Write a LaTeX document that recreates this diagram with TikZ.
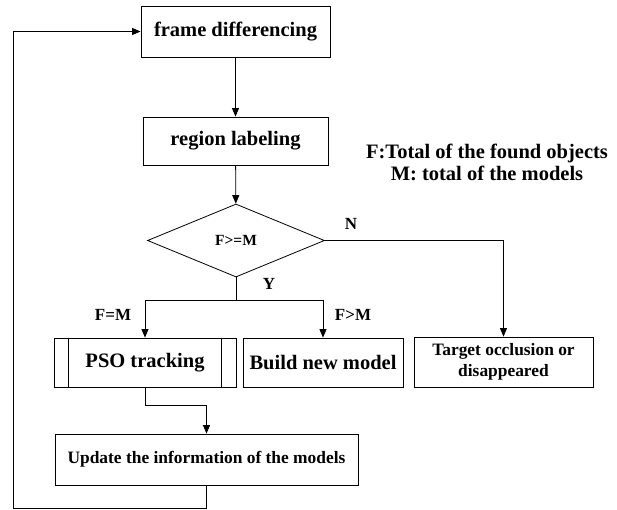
\documentclass[tikz,border=0pt]{standalone}
\usepackage{fontspec}
\setmainfont{Liberation Serif}
\usetikzlibrary{shapes.geometric,arrows.meta}

\begin{document}
\begin{tikzpicture}[x=1pt,y=-1pt,line width=0.8pt,
    process/.style ={rectangle, draw, inner sep=0pt, font=\fontsize{20.5}{24}\selectfont\bfseries},
    smallproc/.style ={rectangle, draw, inner sep=0pt, align=center, font=\fontsize{17.4}{21}\selectfont\bfseries},
    decision/.style ={diamond, draw, inner sep=0pt, aspect=2.4, minimum width=177pt, minimum height=73pt, font=\fontsize{15.5}{18}\selectfont\bfseries},
    tag/.style ={inner sep=0pt, font=\fontsize{17}{20}\selectfont\bfseries},
    flow/.style ={-{Triangle[length=8.5pt,width=7pt]}}]
   \useasboundingbox (0,0) rectangle (617,509);
   % boxes
   \node[process, minimum width=189pt, minimum height=51pt] (frame) at (235.5,31.5) {frame differencing};
   \node[process, minimum width=185pt, minimum height=48pt] (region) at (235.5,141) {region labeling};
   \node[decision] (check) at (236,240.5) {F>=M};
   \node[process, minimum width=182pt, minimum height=49pt] (pso) at (145,362.5) {PSO tracking};
   \node[process, minimum width=160pt, minimum height=49pt] (build) at (323,362.5) {Build new model};
   \node[smallproc, minimum width=179pt, minimum height=50pt] (target) at (503.5,362) {Target occlusion or\\disappeared};
   \node[smallproc, minimum width=303pt, minimum height=51pt] (update) at (206.5,459.5) {Update the information of the models};
   \node[align=center, inner sep=0pt, font=\fontsize{20.5}{22}\selectfont\bfseries] (legend) at (487,162) {F:Total of the found objects\\M: total of the models};
   % inner bars of the predefined process
   \draw ([xshift=15pt]pso.north west) -- ([xshift=15pt]pso.south west);
   \draw ([xshift=-15pt]pso.north east) -- ([xshift=-15pt]pso.south east);
   % labels
   \node[tag] (no) at (351,224) {N};
   \node[tag] (yes) at (269,284) {Y};
   \node[tag] (equal) at (113,315) {F=M};
   \node[tag] (more) at (353,315) {F>M};
   % connectors
   \coordinate (split) at (236,300);
   \coordinate (back) at (13,508);
   \draw[flow] (frame) -- (region);
   \draw[flow] (region) -- (check);
   \draw (check.south) -- (split);
   \draw[flow] (split) -| (pso.north);
   \draw[flow] (split) -| (build.north);
   \draw[flow] (check.east) -| (target.north);
   \draw[flow] (pso.south) -- ++(0,18) -| (update.north);
   \draw[flow] (update.south) |- (back) |- (frame.west);
 \end{tikzpicture}
\end{document}
